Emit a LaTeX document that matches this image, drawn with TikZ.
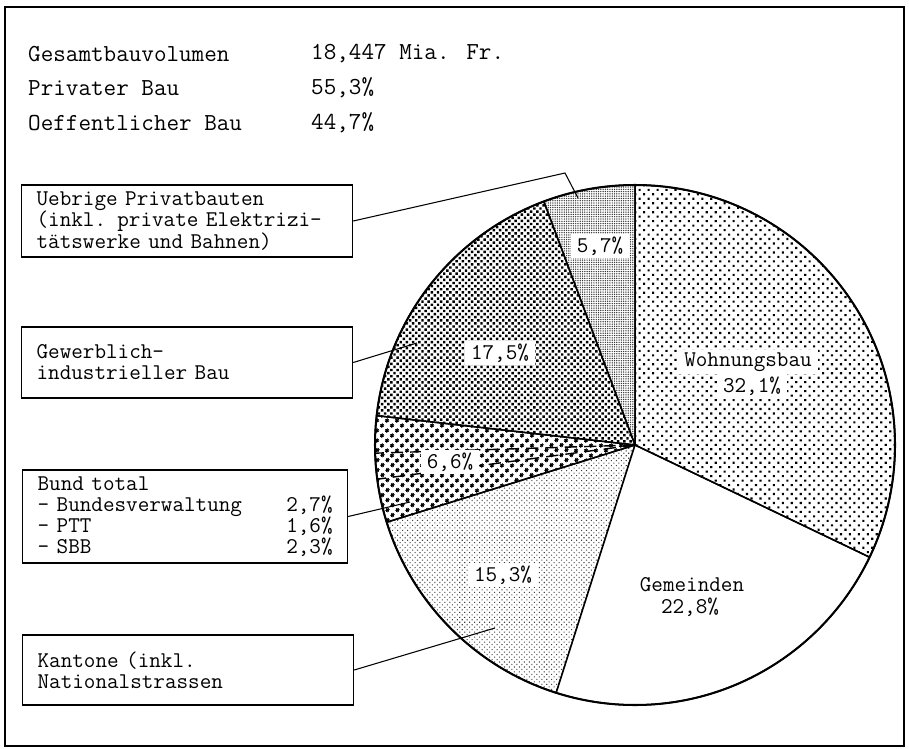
\documentclass[tikz,border=0pt]{standalone}
\usetikzlibrary{patterns.meta}
\setlength{\lineskiplimit}{-20pt}
\begin{document}
\begin{tikzpicture}[
    font=\ttfamily\fontsize{12.8}{12}\selectfont,
    legbox/.style={draw, line width=0.7pt, anchor=west, align=left,
        inner xsep=0.3cm, text width=6.02cm},
    headtxt/.style={anchor=west, font=\ttfamily\fontsize{13.9}{12}\selectfont},
    pct/.style={fill=white, inner xsep=0.12cm, inner ysep=0.06cm},
    leader/.style={line width=0.6pt},
    slice/.style={line width=0.85pt},
    wohnpat/.style={pattern={Dots[distance=3.6pt, radius=0.85pt, angle=45]}},
    gempat/.style={fill=white},
    kantpat/.style={pattern={Dots[distance=2pt, radius=0.42pt, angle=45]}, pattern color=black!75},
    bundpat/.style={pattern={Dots[distance=4pt, radius=1.15pt, angle=45]}},
    gewpat/.style={pattern={Dots[distance=2.5pt, radius=0.98pt, angle=45]}},
    uebrpat/.style={pattern={Dots[distance=1.3pt, radius=0.42pt]}, pattern color=black!80},
  ]
        \useasboundingbox (0,0) rectangle (18.18,-14.98);
        %% frame
        \draw[line width=0.6pt] (0.10,-0.14) rectangle (18.08,-14.92);
        %% head lines
        \node (gesamt) [headtxt] at (0.44,-1.08) {Gesamtbauvolumen};
        \node (gesamtval) [headtxt] at (6.10,-1.08) {18,447 Mia. Fr.};
        \node (privat) [headtxt] at (0.44,-1.76) {Privater Bau};
        \node (privatval) [headtxt] at (6.10,-1.76) {55,3\%};
        \node (oeff) [headtxt] at (0.44,-2.46) {Oeffentlicher Bau};
        \node (oeffval) [headtxt] at (6.10,-2.46) {44,7\%};
        %% pie
        \coordinate (mid) at (12.70,-8.90);
        \foreach \a/\b/\pat in {90/110.52/uebrpat, 110.52/173.52/gewpat,
                173.52/197.28/bundpat, 197.28/252.36/kantpat,
                252.36/334.44/gempat, 334.44/450/wohnpat} {
            \draw[slice, \pat] (mid) -- +(\a:5.2) arc[start angle=\a, end angle=\b, radius=5.2] -- cycle;
        }
        %% Bund split
        \foreach \a in {181.8,187.56} {
            \draw[dashed, dash pattern=on 7pt off 4pt, line width=0.8pt] (mid) -- +(\a:5.2);
        }
        \draw[line width=1.15pt] (mid) circle (5.2);
        %% slice labels
        \node[pct] (uebrpct) at (12.00,-4.92) {5,7\%};
        \node[pct] (gewpct) at (10.00,-7.06) {17,5\%};
        \node[pct] (wohn) at (14.96,-7.24) {Wohnungsbau};
        \node[pct] (wohnpct) at (15.04,-7.72) {32,1\%};
        \node[pct] (bundpct) at (9.00,-9.24) {6,6\%};
        \node[pct] (kantpct) at (10.06,-11.50) {15,3\%};
        \node (gem) at (13.84,-11.70) {Gemeinden};
        \node (gempct) at (13.80,-12.14) {22,8\%};
        %% legend boxes
        \node[legbox, minimum height=1.44cm] (uebr) at (0.42,-4.42)
            {Uebrige Privatbauten\\(inkl. private Elektrizi-\\tätswerke und Bahnen)};
        \node[legbox, minimum height=1.42cm] (gew) at (0.42,-7.25)
            {Gewerblich-\\industrieller Bau};
        \node[legbox, minimum height=1.86cm, text width=5.9cm] (bund) at (0.44,-10.33)
            {Bund total\\- Bundesverwaltung\hfill 2,7\%\\- PTT\hfill 1,6\%\\- SBB\hfill 2,3\%};
        \node[legbox, minimum height=1.40cm] (kant) at (0.44,-13.40)
            {Kantone (inkl.\\Nationalstrassen};
        %% leaders
        \coordinate (uebrend) at (11.56,-3.96);
        \coordinate (gewend) at (8.34,-6.86);
        \coordinate (bundend) at (8.20,-10.04);
        \coordinate (kantend) at (9.90,-12.56);
        \draw[leader] (uebr.east) -- (11.30,-3.46) -- (uebrend);
        \draw[leader] (gew.east) -- (gewend);
        \draw[leader] (bund.east) -- (bundend);
        \draw[leader] (kant.east) -- (kantend);
\end{tikzpicture}
\end{document}
